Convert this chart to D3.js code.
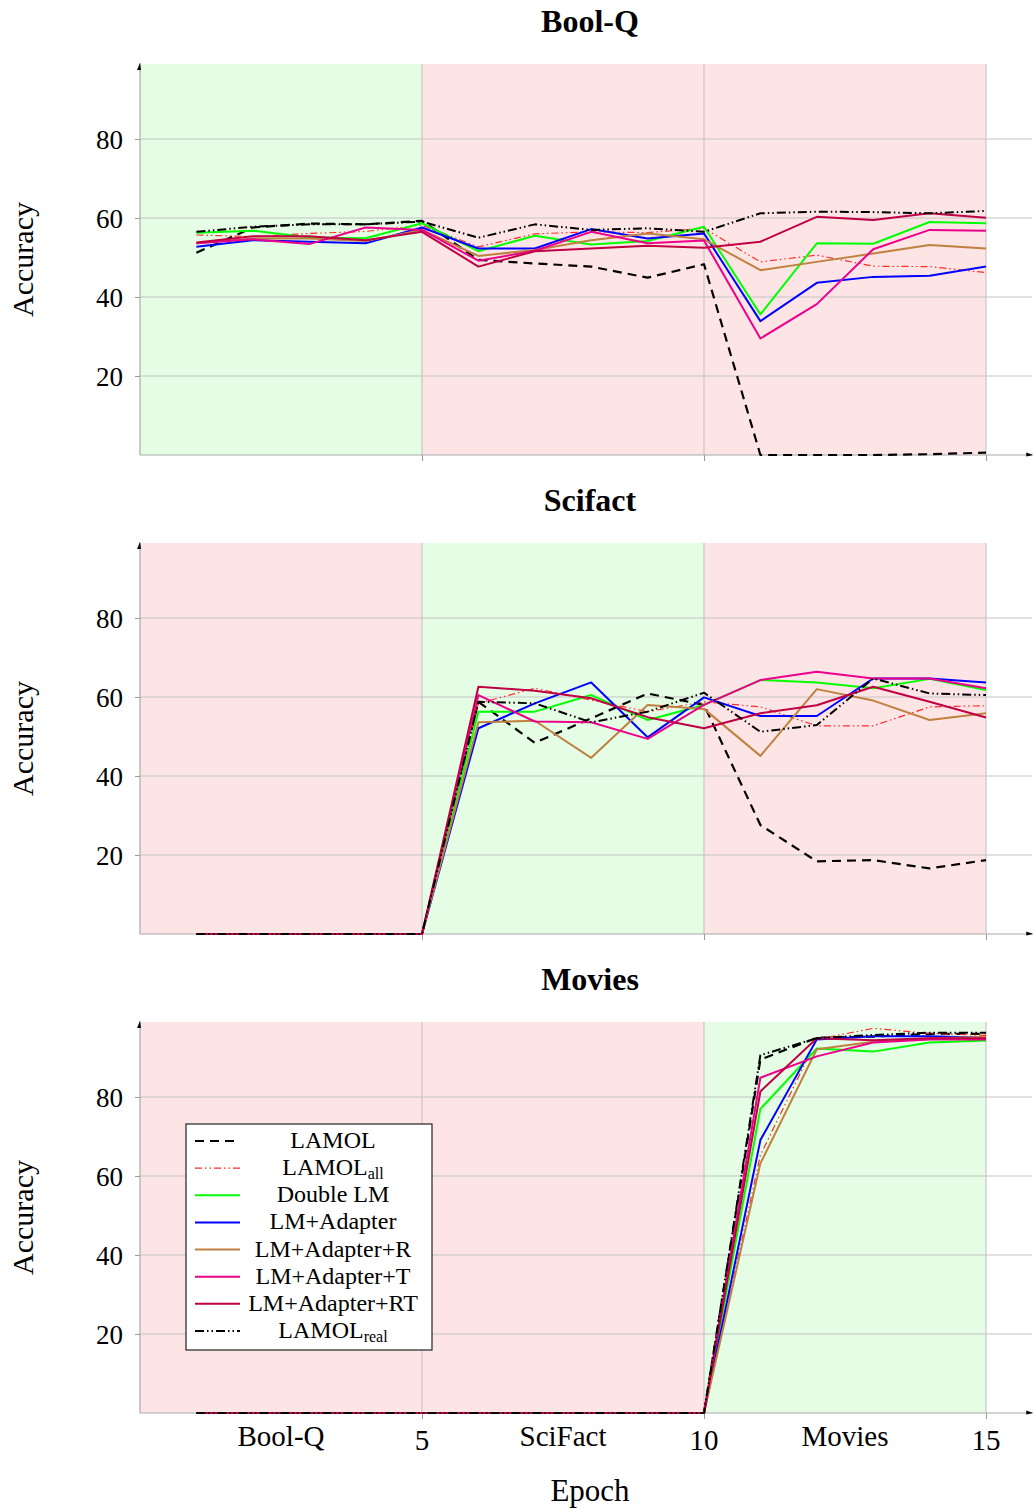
<!DOCTYPE html>
<html><head><meta charset="utf-8">
<script src="https://cdn.jsdelivr.net/npm/d3@7"></script>
<style>
body{margin:0;background:#fff;}
svg{display:block;font-family:"Liberation Serif","Times New Roman",serif;}
</style></head>
<body>
<svg id="chart" width="1035" height="1508"></svg>
<script>
// ---------- data ----------
const epochs = [1,2,3,4,5,6,7,8,9,10,11,12,13,14,15];
const seriesNames = ["LAMOL","LAMOL_all","Double LM","LM+Adapter","LM+Adapter+R","LM+Adapter+T","LM+Adapter+RT","LAMOL_real"];
const panelTitles = ["Bool-Q","Scifact","Movies"];
const yTicks = [20,40,60,80];
const xTickValues = [2.5,5,7.5,10,12.5,15];
const xTickLabels = ["Bool-Q","5","SciFact","10","Movies","15"];

// shaded phases: [start, end, kind]
const boolQPhases = [[0,5,"cur"],[5,10,"old"],[10,15,"old"]];
const scifactPhases = [[0,5,"old"],[5,10,"cur"],[10,15,"old"]];
const moviesPhases = [[0,5,"old"],[5,10,"old"],[10,15,"cur"]];

const boolQValues = [
  [51.2,57.6,58.6,58.4,59.3,49.4,48.5,47.7,44.9,48.3,0,0,0,0.2,0.6],
  [55.7,55.3,56.1,56.6,58.2,52.7,56.0,56.5,56.3,57.4,48.9,50.6,47.8,47.7,46.2],
  [56.3,56.8,55.1,54.9,58.7,51.6,55.5,53.3,54.2,57.8,35.6,53.6,53.5,59.0,58.7],
  [52.7,54.4,54.0,53.6,57.6,52.3,52.3,57.2,54.8,56.1,33.9,43.6,45.1,45.4,47.7],
  [53.6,54.8,54.8,54.2,57.0,50.4,51.9,54.4,56.1,54.6,46.8,48.9,51.0,53.2,52.3],
  [53.6,54.6,53.4,57.6,57.0,49.2,51.7,56.5,53.6,54.3,29.5,38.2,52.1,57.0,56.8],
  [53.8,55.4,55.4,54.4,56.5,47.7,51.6,52.3,53.0,52.5,54.0,60.3,59.5,61.2,60.1],
  [56.5,57.8,58.4,58.4,59.1,55.0,58.4,57.0,57.4,56.5,61.2,61.6,61.5,61.2,61.8]
];
const scifactValues = [
  [0,0,0,0,0,58.8,48.4,54.6,60.9,58.0,27.6,18.4,18.7,16.6,18.7],
  [0,0,0,0,0,58.4,62.2,59.2,56.3,58.8,57.5,52.7,52.7,57.5,57.8],
  [0,0,0,0,0,56.3,56.3,60.5,54.2,58.0,64.3,63.7,62.2,64.6,61.8],
  [0,0,0,0,0,52.1,58.4,63.7,49.8,59.9,55.2,55.2,64.7,64.7,63.7],
  [0,0,0,0,0,53.6,54.0,44.6,58.0,57.0,45.1,62.0,59.1,54.2,55.9],
  [0,0,0,0,0,60.5,53.8,53.6,49.4,58.0,64.3,66.4,64.7,64.7,62.2],
  [0,0,0,0,0,62.6,61.6,59.7,54.9,52.1,55.9,57.9,62.6,58.8,54.8],
  [0,0,0,0,0,58.8,58.4,53.6,56.3,61.1,51.2,52.9,64.7,60.9,60.5]
];
const moviesValues = [
  [0,0,0,0,0,0,0,0,0,0,89.5,95.0,95.3,96.0,96.0],
  [0,0,0,0,0,0,0,0,0,0,65.3,94.6,97.4,96.1,95.6],
  [0,0,0,0,0,0,0,0,0,0,77.0,92.3,91.5,93.8,94.3],
  [0,0,0,0,0,0,0,0,0,0,69.1,94.6,95.4,95.4,95.0],
  [0,0,0,0,0,0,0,0,0,0,63.2,92.1,94.0,94.9,95.2],
  [0,0,0,0,0,0,0,0,0,0,84.9,90.3,93.8,94.6,94.6],
  [0,0,0,0,0,0,0,0,0,0,81.4,94.9,94.4,94.9,94.9],
  [0,0,0,0,0,0,0,0,0,0,90.6,94.9,95.7,96.3,96.3]
];

// ---------- styles ----------
const seriesStyle = [
  {color:"#000000", width:2.2, dash:"9 6"},
  {color:"#ff2a2a", width:1.2, dash:"7 3 1.5 3 1.5 3"},
  {color:"#00ff00", width:2, dash:null},
  {color:"#0000ff", width:2, dash:null},
  {color:"#bf8040", width:2, dash:null},
  {color:"#ec008c", width:2, dash:null},
  {color:"#bf0045", width:2, dash:null},
  {color:"#000000", width:2, dash:"9 3 1.5 3 1.5 3"}
];
const phaseFill = {cur:"#e4fde4", old:"#fde5e5"};

const svg = d3.select("#chart");
const x = d3.scaleLinear().domain([0,15]).range([140,986]);
const xAxisEnd = 15.82;
const panelTops = [64,543,1022];
const panelH = 391;
const allValues = [boolQValues, scifactValues, moviesValues];
const allPhases = [boolQPhases, scifactPhases, moviesPhases];

panelTitles.forEach((title,pi)=>{
  const top = panelTops[pi];
  const y = d3.scaleLinear().domain([0,99]).range([top+panelH, top]);
  const g = svg.append("g");

  // backgrounds
  g.selectAll("rect.ph").data(allPhases[pi]).join("rect")
    .attr("x",d=>x(d[0])).attr("width",d=>x(d[1])-x(d[0]))
    .attr("y",y(99)).attr("height",y(0)-y(99))
    .attr("fill",d=>phaseFill[d[2]]);

  // horizontal grid
  g.selectAll("line.hg").data(yTicks).join("line")
    .attr("x1",x(0)).attr("x2",x(xAxisEnd)).attr("y1",d=>y(d)).attr("y2",d=>y(d))
    .attr("stroke","#c4c4c4").attr("stroke-width",1.1);
  // vertical grid
  g.selectAll("line.vg").data([5,10,15]).join("line")
    .attr("x1",d=>x(d)).attr("x2",d=>x(d)).attr("y1",y(99)).attr("y2",y(0))
    .attr("stroke","#c4c4c4").attr("stroke-width",1.1);

  // y axis
  const yAxis = d3.axisLeft(y).tickValues(yTicks).tickSize(5).tickPadding(12);
  const ya = g.append("g").attr("transform",`translate(${x(0)},0)`).call(yAxis);
  ya.select(".domain").remove();
  ya.selectAll(".tick line").attr("stroke","#999");
  ya.selectAll(".tick text").attr("font-family","Liberation Serif, serif").attr("font-size",27).attr("fill","#000").attr("dy","0.34em");
  g.append("line").attr("x1",x(0)).attr("x2",x(0)).attr("y1",y(0)).attr("y2",y(99)-1)
    .attr("stroke","#aaa").attr("stroke-width",1.2);
  g.append("path").attr("d",`M${x(0)-3},${y(99)+6} L${x(0)},${y(99)-1} L${x(0)+1},${y(99)+6} Z`).attr("fill","#000");

  // x axis
  const xa = g.append("g").attr("transform",`translate(0,${y(0)})`)
    .call(d3.axisBottom(x).tickValues([5,10,15]).tickSize(6).tickFormat(""));
  xa.select(".domain").remove();
  xa.selectAll(".tick line").attr("stroke","#999");
  g.append("line").attr("x1",x(0)).attr("x2",x(xAxisEnd)).attr("y1",y(0)).attr("y2",y(0))
    .attr("stroke","#aaa").attr("stroke-width",1.2);
  g.append("path").attr("d",`M${x(xAxisEnd)-6},${y(0)-2.5} L${x(xAxisEnd)+1},${y(0)} L${x(xAxisEnd)-6},${y(0)+1.5} Z`).attr("fill","#000");

  // lines
  const line = d3.line().x((d,i)=>x(epochs[i])).y(d=>y(d));
  allValues[pi].forEach((vals,si)=>{
    const st = seriesStyle[si];
    g.append("path").datum(vals).attr("d",line)
      .attr("fill","none").attr("stroke",st.color).attr("stroke-width",st.width)
      .attr("stroke-dasharray",st.dash).attr("stroke-linejoin","round");
  });

  // title
  svg.append("text").attr("x",590).attr("y",top-32).attr("text-anchor","middle")
    .attr("font-size",32).attr("font-weight","bold").text(title);
  // y label
  svg.append("text").attr("transform",`translate(33,${top+panelH/2}) rotate(-90)`)
    .attr("text-anchor","middle").attr("font-size",30).text("Accuracy");
});

// bottom x tick labels
const bottomY = panelTops[2]+panelH;
svg.selectAll("text.xt").data(xTickValues).join("text")
  .attr("x",d=>x(d)).attr("y",(d,i)=> i%2===0 ? bottomY+33 : bottomY+37)
  .attr("text-anchor","middle").attr("font-size",29)
  .text((d,i)=>xTickLabels[i]);
svg.append("text").attr("x",590).attr("y",1501).attr("text-anchor","middle").attr("font-size",31).text("Epoch");

// legend
const lg = svg.append("g");
lg.append("rect").attr("x",186).attr("y",1124).attr("width",246).attr("height",226)
  .attr("fill","#fff").attr("stroke","#222").attr("stroke-width",1.2);
const legendRowY = d3.scaleLinear().domain([0,7]).range([1141,1331]);
seriesNames.forEach((name,i)=>{
  const st = seriesStyle[i];
  const yy = legendRowY(i);
  lg.append("line").attr("x1",195).attr("x2",240).attr("y1",yy).attr("y2",yy)
    .attr("stroke",st.color).attr("stroke-width",st.width).attr("stroke-dasharray",st.dash);
  const t = lg.append("text").attr("x",333).attr("y",yy+7).attr("text-anchor","middle").attr("font-size",24);
  if(name.startsWith("LAMOL_")){
    t.append("tspan").text("LAMOL");
    t.append("tspan").attr("font-size",16).attr("dy",4).text(name.split("_")[1]);
  } else {
    t.text(name);
  }
});
</script>
</body></html>
